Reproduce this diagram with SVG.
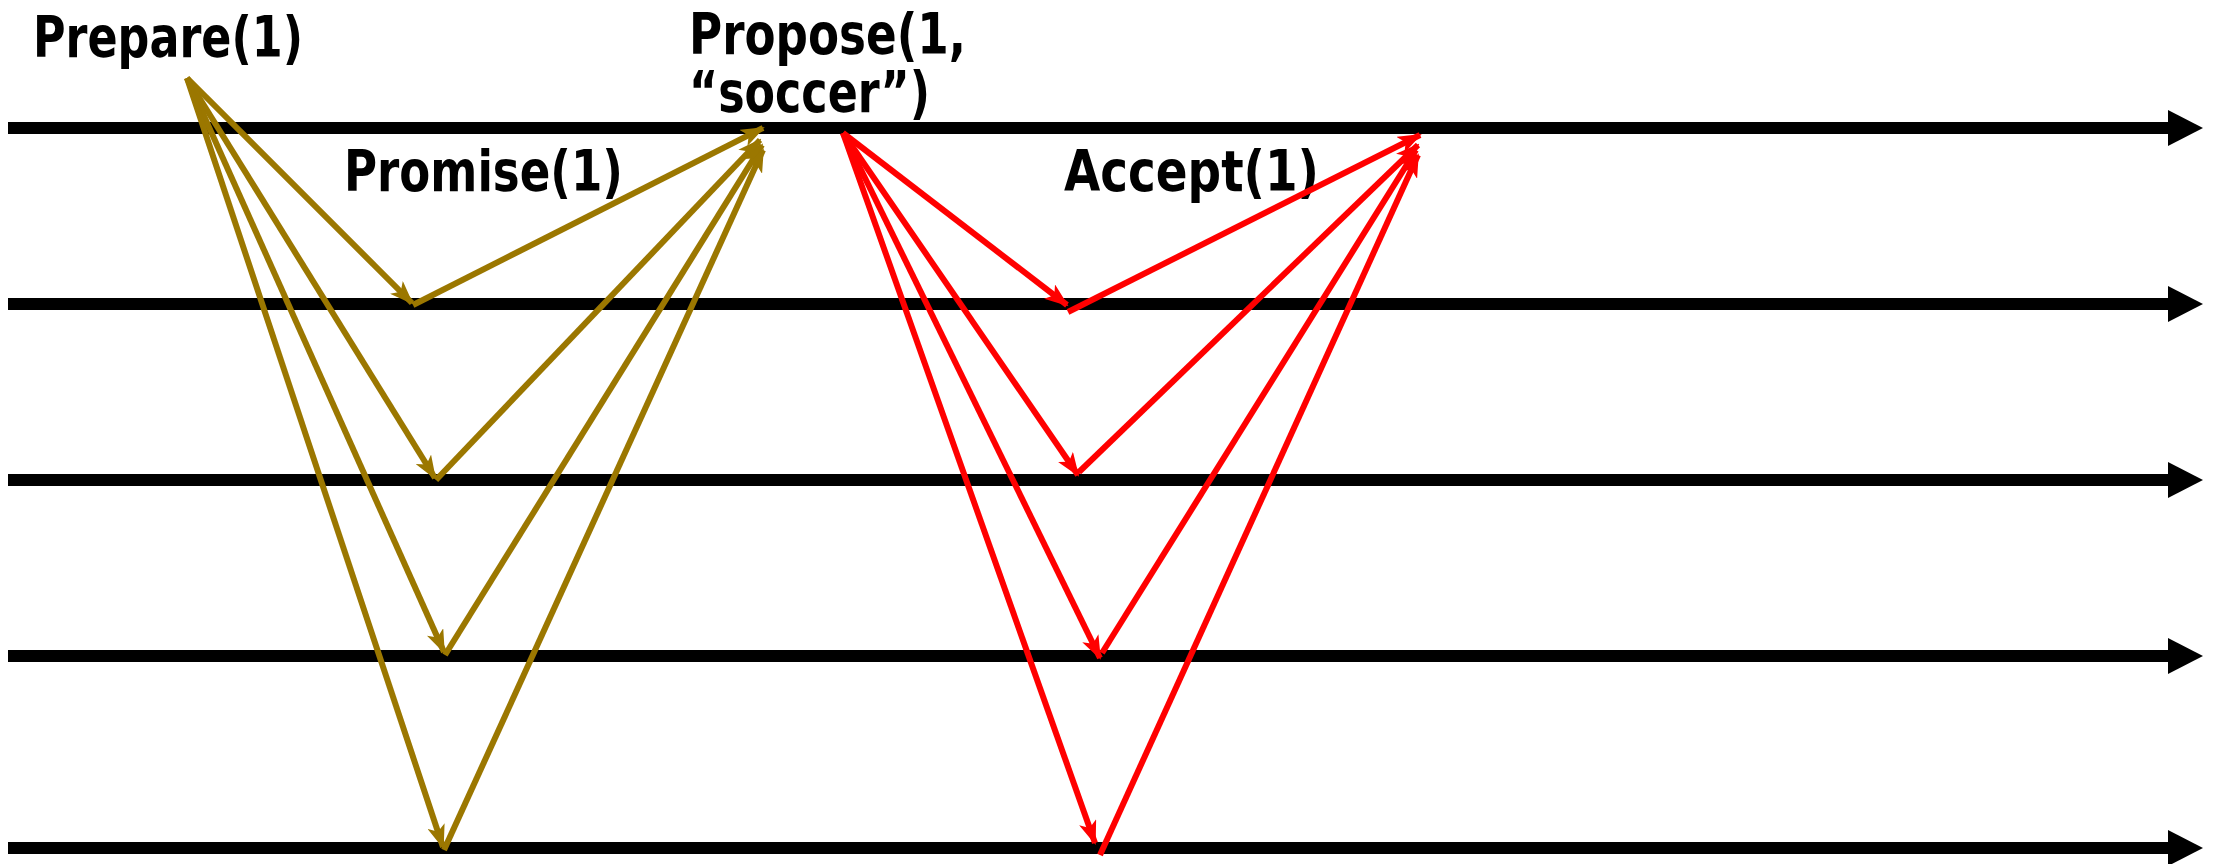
<svg xmlns="http://www.w3.org/2000/svg" width="2219" height="864" viewBox="0 0 2219 864">
<style>
.tl{stroke:#000;stroke-width:12;fill:none}
.th{fill:#000}
.g{stroke:#9b7700;stroke-width:6;fill:none;marker-end:url(#ag)}
.r{stroke:#ff0000;stroke-width:6;fill:none;marker-end:url(#ar)}
.lbl{font-family:"DejaVu Sans Condensed","DejaVu Sans",sans-serif;font-weight:bold;font-size:57px;fill:#000}
</style>
<defs>
<marker id="ag" viewBox="0 0 24 18" refX="22" refY="9" markerWidth="24" markerHeight="18" markerUnits="userSpaceOnUse" orient="auto">
<path d="M0,0 L24,9 L0,18 L6,9 Z" fill="#9b7700"/>
</marker>
<marker id="ar" viewBox="0 0 24 18" refX="22" refY="9" markerWidth="24" markerHeight="18" markerUnits="userSpaceOnUse" orient="auto">
<path d="M0,0 L24,9 L0,18 L6,9 Z" fill="#ff0000"/>
</marker>
</defs>
<rect width="2219" height="864" fill="#fff"/>
<g id="timelines">
<g id="t1"><line class="tl" x1="8" y1="128" x2="2172" y2="128"/><polygon class="th" points="2168,110 2203,128 2168,146"/></g>
<g id="t2"><line class="tl" x1="8" y1="304" x2="2172" y2="304"/><polygon class="th" points="2168,286 2203,304 2168,322"/></g>
<g id="t3"><line class="tl" x1="8" y1="480" x2="2172" y2="480"/><polygon class="th" points="2168,462 2203,480 2168,498"/></g>
<g id="t4"><line class="tl" x1="8" y1="656" x2="2172" y2="656"/><polygon class="th" points="2168,638 2203,656 2168,674"/></g>
<g id="t5"><line class="tl" x1="8" y1="848" x2="2172" y2="848"/><polygon class="th" points="2168,830 2203,848 2168,866"/></g>
</g>
<g id="labels">
<g id="prepare"><text class="lbl" x="33" y="57" textLength="270" lengthAdjust="spacingAndGlyphs">Prepare(1)</text></g>
<g id="promise"><text class="lbl" x="344" y="191" textLength="279" lengthAdjust="spacingAndGlyphs">Promise(1)</text></g>
<g id="propose"><text class="lbl"><tspan x="689" y="54" textLength="277" lengthAdjust="spacingAndGlyphs">Propose(1,</tspan><tspan x="689" y="112" textLength="241" lengthAdjust="spacingAndGlyphs">“soccer”)</tspan></text></g>
<g id="accept"><text class="lbl" x="1064" y="191" textLength="255" lengthAdjust="spacingAndGlyphs">Accept(1)</text></g>
</g>
<g id="connectors">
<line class="g" x1="187" y1="78" x2="412" y2="303"/>
<line class="g" x1="187" y1="78" x2="435" y2="478"/>
<line class="g" x1="187" y1="78" x2="444" y2="652"/>
<line class="g" x1="187" y1="78" x2="443" y2="847"/>
<line class="g" x1="413" y1="305" x2="763" y2="128"/>
<line class="g" x1="436" y1="480" x2="760" y2="140"/>
<line class="g" x1="445" y1="655" x2="762" y2="145"/>
<line class="g" x1="444" y1="850" x2="763" y2="150"/>
<line class="r" x1="843" y1="133" x2="1067" y2="305"/>
<line class="r" x1="843" y1="133" x2="1078" y2="475"/>
<line class="r" x1="843" y1="133" x2="1100" y2="658"/>
<line class="r" x1="843" y1="133" x2="1095" y2="843"/>
<line class="r" x1="1068" y1="312" x2="1420" y2="135"/>
<line class="r" x1="1079" y1="472" x2="1418" y2="145"/>
<line class="r" x1="1102" y1="653" x2="1416" y2="150"/>
<line class="r" x1="1100" y1="855" x2="1418" y2="155"/>
</g>
</svg>
